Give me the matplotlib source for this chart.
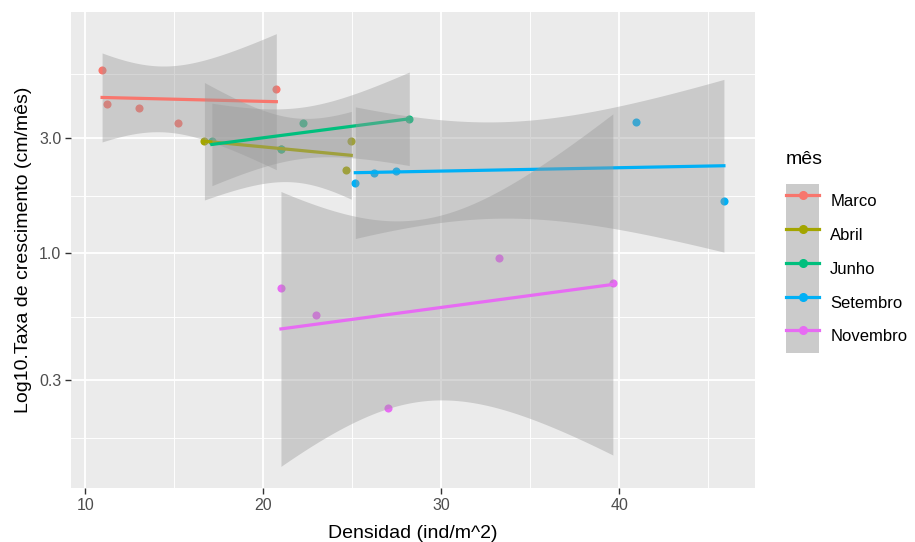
import numpy as np
import matplotlib
matplotlib.use("Agg")
import matplotlib.pyplot as plt
from matplotlib.lines import Line2D
from matplotlib.patches import Patch
from matplotlib.ticker import FixedLocator, FixedFormatter, NullFormatter

plt.rcParams["font.family"] = ["Liberation Sans", "DejaVu Sans"]

# data (density vs growth rate, per month)
months = ["Marco", "Abril", "Junho", "Setembro", "Novembro"]
colors = ["#F8766D", "#A3A500", "#00BF7D", "#00B0F6", "#E76BF3"]

dens_marco = [10.94, 11.22, 12.99, 15.21, 20.73]
taxa_marco = [5.70, 4.13, 3.98, 3.45, 4.76]
dens_abril = [16.69, 20.99, 24.66, 24.94]
taxa_abril = [2.92, 2.70, 2.21, 2.92]
dens_junho = [17.11, 20.99, 22.21, 28.20]
taxa_junho = [2.91, 2.70, 3.45, 3.60]
dens_setembro = [25.17, 26.24, 27.45, 40.96, 45.88]
taxa_setembro = [1.95, 2.14, 2.18, 3.50, 1.65]
dens_novembro = [20.99, 22.96, 26.98, 33.22, 39.64]
taxa_novembro = [0.718, 0.560, 0.230, 0.959, 0.757]

y_breaks = [0.1, 0.3, 1.0, 3.0, 10.0]
y_labels = ["0.1", "0.3", "1.0", "3.0", "10.0"]
x_breaks = [10, 20, 30, 40]

groups = [
    (dens_marco, taxa_marco),
    (dens_abril, taxa_abril),
    (dens_junho, taxa_junho),
    (dens_setembro, taxa_setembro),
    (dens_novembro, taxa_novembro),
]

# 97.5% t quantiles by residual df
T975 = {1: 12.706, 2: 4.303, 3: 3.182, 4: 2.776}


def lm_band(x, y, n=80):
    # lm on log10(y), like geom_smooth(method="lm") on a log10 scale
    x = np.asarray(x, float)
    ly = np.log10(y)
    b, a = np.polyfit(x, ly, 1)
    xs = np.linspace(x.min(), x.max(), n)
    fit = a + b * xs
    res = ly - (a + b * x)
    df = len(x) - 2
    s = np.sqrt((res ** 2).sum() / df)
    se = s * np.sqrt(1 / len(x) + (xs - x.mean()) ** 2 / ((x - x.mean()) ** 2).sum())
    return xs, fit, fit - T975[df] * se, fit + T975[df] * se


fig = plt.figure(figsize=(9.15, 5.42), dpi=100)
ax = fig.add_axes([71 / 915, 54 / 542, 684 / 915, 476 / 542])
ax.set_facecolor("#EBEBEB")
ax.set_yscale("log")

lo, hi = [], []
for (x, y), c in zip(groups, colors):
    ax.scatter(x, y, s=34, color=c, linewidths=0, zorder=2)

for i, ((x, y), c) in enumerate(zip(groups, colors)):
    xs, fit, low, up = lm_band(x, y)
    lo.append(low.min()); hi.append(up.max())
    ax.fill_between(xs, 10 ** low, 10 ** up, color="#999999", alpha=0.4,
                    linewidth=0, zorder=3 + 2 * i)
    ax.plot(xs, 10 ** fit, color=c, lw=2.3, zorder=4 + 2 * i)

# ggplot-style 5% expansion
allx = np.concatenate([np.asarray(x) for x, _ in groups])
xr = allx.max() - allx.min()
ax.set_xlim(allx.min() - 0.05 * xr, allx.max() + 0.05 * xr)
ylo, yhi = min(lo), max(hi)
yr = yhi - ylo
ax.set_ylim(10 ** (ylo - 0.05 * yr), 10 ** (yhi + 0.05 * yr))

ax.yaxis.set_major_locator(FixedLocator(y_breaks))
ax.yaxis.set_major_formatter(FixedFormatter(y_labels))
ymid = [np.sqrt(y_breaks[k] * y_breaks[k + 1]) for k in range(len(y_breaks) - 1)]
ax.yaxis.set_minor_locator(FixedLocator(ymid))
ax.yaxis.set_minor_formatter(NullFormatter())
ax.xaxis.set_major_locator(FixedLocator(x_breaks))
ax.xaxis.set_minor_locator(FixedLocator([b + 5 for b in x_breaks]))

ax.grid(which="major", color="white", lw=1.3)
ax.grid(which="minor", color="white", lw=0.65)
ax.set_axisbelow(True)
for sp in ax.spines.values():
    sp.set_visible(False)
ax.tick_params(which="major", length=4, width=1, color="#333333",
               labelsize=11.5, labelcolor="#4D4D4D", pad=3)
ax.tick_params(which="minor", length=0)

ax.set_xlabel("Densidad (ind/m^2)", fontsize=14, labelpad=9)
ax.set_ylabel("Log10.Taxa de crescimento (cm/mês)", fontsize=14, labelpad=5)

handles = [(Patch(facecolor="#CBCBCB", edgecolor="none"),
            Line2D([], [], color=c, lw=2.3, marker="o", ms=5.5))
           for c in colors]
ax.legend(handles, months, loc="upper left",
          bbox_to_anchor=(786 / 915, 1 - 184 / 542), bbox_transform=fig.transFigure,
          frameon=False, fontsize=12, handlelength=2.0,
          handleheight=2.75, labelspacing=0.0, handletextpad=0.65,
          borderaxespad=0, borderpad=0)
fig.text(786 / 915, 1 - 159 / 542, "mês", fontsize=14, ha="left", va="center")

fig.savefig("out.png", dpi=100)
